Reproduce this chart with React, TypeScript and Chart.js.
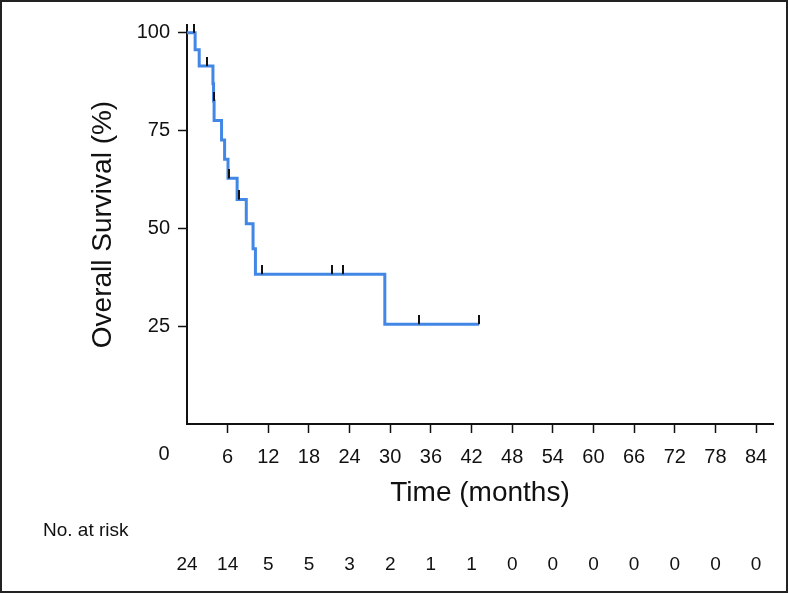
import React, { useEffect, useRef } from 'react';
import { Chart, registerables } from 'chart.js';

Chart.register(...registerables);

// Kaplan–Meier step points (time in months, survival in %)
const eventTimes = [0, 1.2, 1.8, 3.83, 3.92, 4.0, 5.1, 5.55, 6.05, 7.4, 8.75, 9.75, 10.1, 29.2, 43.1];
const survival = [100, 95.7, 91.5, 87.0, 82.6, 77.6, 72.6, 67.7, 62.8, 57.4, 51.2, 44.8, 38.3, 25.5, 25.5];

// Censored observations
const censorTimes = [1.0, 2.9, 3.95, 6.2, 7.65, 11.1, 21.4, 23.0, 34.2, 43.1];
const censorSurvival = [100, 91.5, 82.6, 62.8, 57.4, 38.3, 38.3, 38.3, 25.5, 25.5];

// Axis ticks
const xTickValues = [6, 12, 18, 24, 30, 36, 42, 48, 54, 60, 66, 72, 78, 84];
const yTickValues = [25, 50, 75, 100];

// Number at risk table
const riskTimes = [0, 6, 12, 18, 24, 30, 36, 42, 48, 54, 60, 66, 72, 78, 84];
const atRisk = [24, 14, 5, 5, 3, 2, 1, 1, 0, 0, 0, 0, 0, 0, 0];

const FONT = "'Liberation Sans', Arial, sans-serif";

export default function App() {
  const ref = useRef<HTMLCanvasElement | null>(null);

  useEffect(() => {
    const canvas = ref.current;
    if (!canvas) return;

    const tick = document.createElement('canvas');
    tick.width = 2;
    tick.height = 18;
    const tctx = tick.getContext('2d');
    if (tctx) {
      tctx.fillStyle = '#111';
      tctx.fillRect(0, 0, 2, 9);
    }

    const extras = {
      id: 'extras',
      afterDraw(chart: any) {
        const ctx = chart.ctx;
        const xs = chart.scales.x;
        ctx.save();
        ctx.fillStyle = '#111';
        ctx.textBaseline = 'middle';
        // "0" label left of the axis
        ctx.font = `20px ${FONT}`;
        ctx.textAlign = 'center';
        ctx.fillText('0', xs.getPixelForValue(0) - 23, 454);
        // No. at risk
        ctx.font = `19px ${FONT}`;
        ctx.textAlign = 'left';
        ctx.fillText('No. at risk', 43, 531);
        ctx.textAlign = 'center';
        riskTimes.forEach((t, i) => {
          ctx.fillText(String(atRisk[i]), xs.getPixelForValue(t), 565);
        });
        // frame
        ctx.strokeStyle = '#222';
        ctx.lineWidth = 2;
        ctx.strokeRect(1, 1, 786, 591);
        ctx.restore();
      },
    };

    const chart = new Chart(canvas, {
      type: 'scatter',
      data: {
        datasets: [
          {
            label: 'censored',
            data: censorTimes.map((t, i) => ({ x: t, y: censorSurvival[i] })),
            pointStyle: tick as any,
            pointRadius: 5,
            showLine: false,
            clip: false as any,
            order: 0,
          },
          {
            label: 'OS',
            data: eventTimes.map((t, i) => ({ x: t, y: survival[i] })),
            showLine: true,
            stepped: true,
            borderColor: '#4287e5',
            borderWidth: 3,
            pointRadius: 0,
            fill: false,
            order: 1,
          },
        ],
      },
      options: {
        animation: false,
        responsive: false,
        devicePixelRatio: 1,
        layout: { padding: { left: 0, right: 16, top: 25, bottom: 0 } },
        plugins: { legend: { display: false }, tooltip: { enabled: false } },
        scales: {
          x: {
            type: 'linear',
            min: 0,
            max: 86.5,
            afterBuildTicks: (s: any) => {
              s.ticks = xTickValues.map((v) => ({ value: v }));
            },
            afterFit: (s: any) => {
              s.height = 170;
            },
            grid: {
              drawOnChartArea: false,
              drawTicks: true,
              tickLength: 9,
              tickWidth: 1.5,
              color: '#111',
            },
            border: { display: true, color: '#111', width: 2 },
            ticks: {
              color: '#111',
              font: { family: FONT, size: 20 },
              padding: 12,
              maxRotation: 0,
              autoSkip: false,
            },
            title: {
              display: true,
              text: 'Time (months)',
              color: '#111',
              font: { family: FONT, size: 28 },
              padding: { top: 0, bottom: 84 },
            },
          },
          y: {
            type: 'linear',
            min: 0,
            max: 102,
            afterBuildTicks: (s: any) => {
              s.ticks = yTickValues.map((v) => ({ value: v }));
            },
            afterFit: (s: any) => {
              s.width = 187;
            },
            grid: {
              drawOnChartArea: false,
              drawTicks: true,
              tickLength: 9,
              tickWidth: 1.5,
              color: '#111',
            },
            border: { display: true, color: '#111', width: 2 },
            ticks: {
              color: '#111',
              font: { family: FONT, size: 20 },
              padding: 8,
              autoSkip: false,
            },
            title: {
              display: true,
              text: 'Overall Survival (%)',
              color: '#111',
              font: { family: FONT, size: 28 },
              padding: { top: 86, bottom: 0 },
            },
          },
        },
      },
      plugins: [extras],
    });

    return () => chart.destroy();
  }, []);

  return (
    <div style={{ position: 'fixed', left: 0, top: 0, width: 789, height: 594, background: '#fff' }}>
      <canvas ref={ref} width={789} height={594} style={{ width: 789, height: 594, display: 'block' }} />
    </div>
  );
}
